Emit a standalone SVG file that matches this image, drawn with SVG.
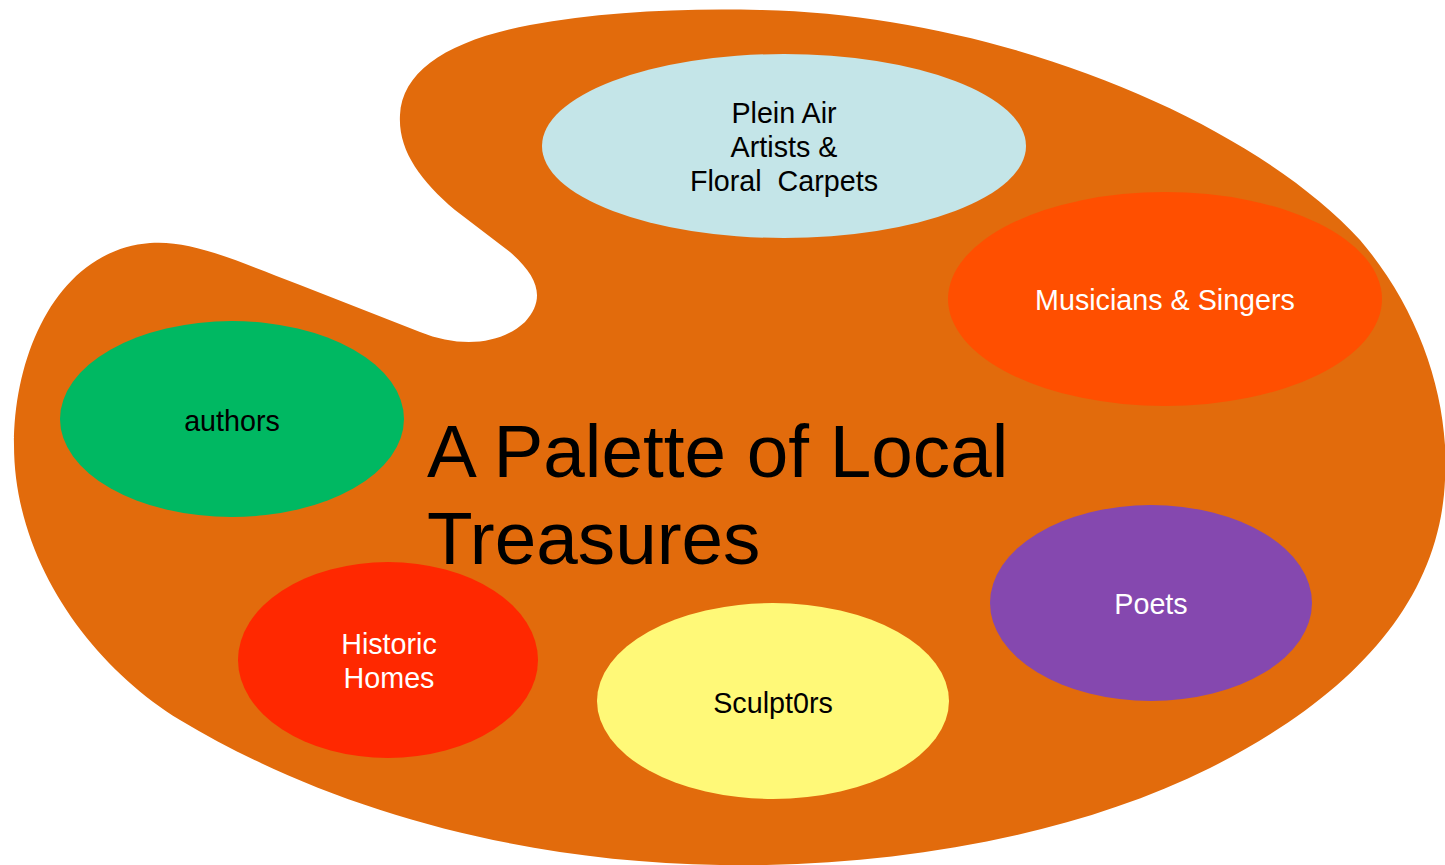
<svg xmlns="http://www.w3.org/2000/svg" width="1445" height="865" viewBox="0 0 1445 865">
<style>
.lbl{font-family:"Liberation Sans",Arial,sans-serif;font-size:28.7px;text-anchor:middle}
.dark{fill:#000}
.light{fill:#fff}
.title{font-family:"Liberation Sans",Arial,sans-serif;font-size:74.7px;fill:#000}
</style>
<rect width="1445" height="865" fill="#fff"/>
<path id="palette" fill="#E26B0C" d="M14,445 C14,350 60,250 150,243 C190,240 230,258 300,285 L420,332 C460,348 500,345 525,322 C545,300 540,278 510,252 L455,210 C420,180 398,150 400,115 C402,70 450,40 530,25 C600,12 680,8 760,10 C1000,15 1250,120 1360,240 C1420,310 1450,400 1445,480 C1440,600 1355,695 1210,768 C1065,840 880,868 720,865 C520,862 330,810 180,720 C90,665 14,560 14,445 Z"/>
<g id="connectors"/>
<g id="plein-air">
<ellipse cx="784" cy="146" rx="242" ry="92" fill="#C4E5E8"/>
<text class="lbl dark" x="784" y="123">Plein Air</text>
<text class="lbl dark" x="784" y="157">Artists &amp;</text>
<text class="lbl dark" x="784" y="191" xml:space="preserve">Floral  Carpets</text>
</g>
<g id="musicians">
<ellipse cx="1165" cy="299" rx="217" ry="107" fill="#FF4F00"/>
<text class="lbl light" x="1165" y="310">Musicians &amp; Singers</text>
</g>
<g id="authors">
<ellipse cx="232" cy="419" rx="172" ry="98" fill="#00B862"/>
<text class="lbl dark" x="232" y="431">authors</text>
</g>
<g id="historic-homes">
<ellipse cx="388" cy="660" rx="150" ry="98" fill="#FF2800"/>
<text class="lbl light" x="389" y="654">Historic</text>
<text class="lbl light" x="389" y="688">Homes</text>
</g>
<g id="sculptors">
<ellipse cx="773" cy="701" rx="176" ry="98" fill="#FFF978"/>
<text class="lbl dark" x="773" y="713">Sculpt0rs</text>
</g>
<g id="poets">
<ellipse cx="1151" cy="603" rx="161" ry="98" fill="#8548AF"/>
<text class="lbl light" x="1151" y="614">Poets</text>
</g>
<g id="title">
<text class="title" x="427" y="477">A Palette of Local</text>
<text class="title" x="427" y="564">Treasures</text>
</g>
</svg>
